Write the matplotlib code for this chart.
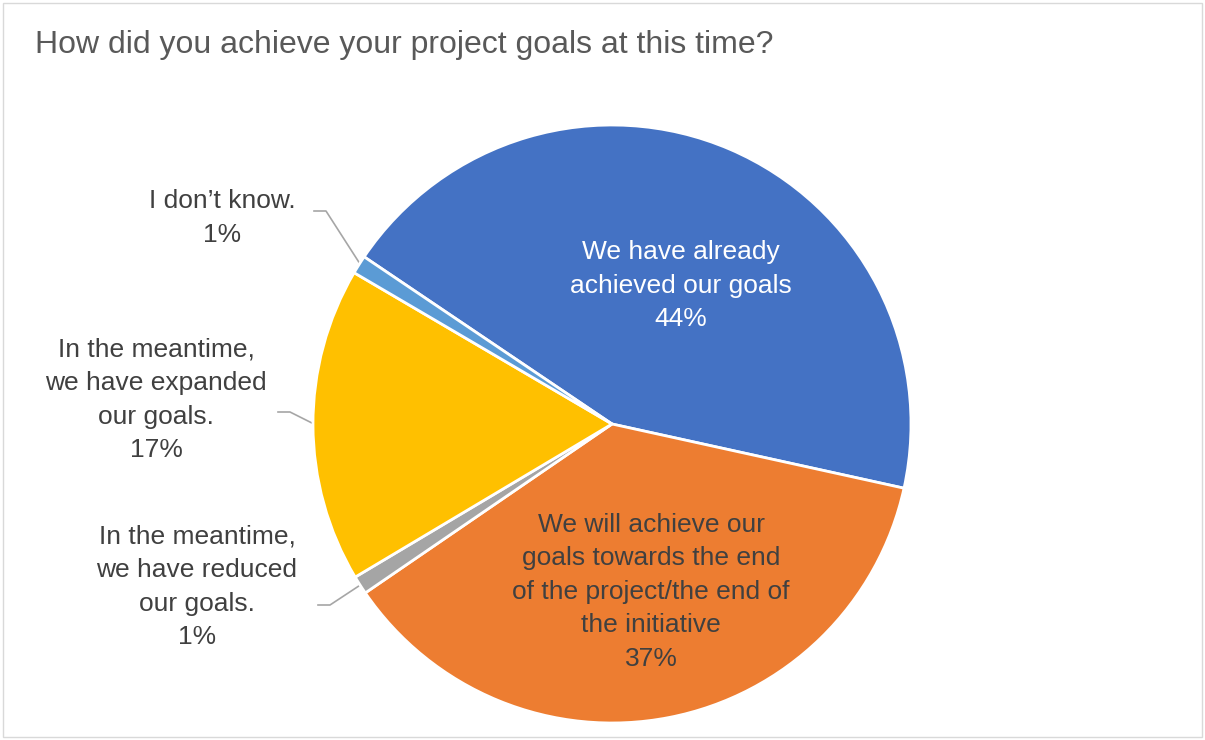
import numpy as np
import matplotlib
matplotlib.use("Agg")
import matplotlib.pyplot as plt
from matplotlib.patches import Rectangle

plt.rcParams['font.family'] = ['Liberation Sans', 'DejaVu Sans']

# data
title = "How did you achieve your project goals at this time?"
categories = [
    "We have already\nachieved our goals",
    "We will achieve our\ngoals towards the end\nof the project/the end of\nthe initiative",
    "In the meantime,\nwe have reduced\nour goals.",
    "In the meantime,\nwe have expanded\nour goals.",
    "I don\u2019t know.",
]
shares = [44, 37, 1, 17, 1]
colors = ["#4472C4", "#ED7D31", "#A5A5A5", "#FFC000", "#5B9BD5"]

W, H = 1205, 740
fig = plt.figure(figsize=(W / 100, H / 100), dpi=100)

# pie centre and radius in pixels
cx, cy, r = 612, 424, 299
ax = fig.add_axes([(cx - r) / W, (H - cy - r) / H, 2 * r / W, 2 * r / H])

wedges, _ = ax.pie(shares, colors=colors, startangle=146, counterclock=False,
                   radius=1, wedgeprops=dict(edgecolor="white", linewidth=2))
ax.set_xlim(-1, 1)
ax.set_ylim(-1, 1)
ax.set_aspect("equal")
ax.axis("off")


def px(x, y):
    # pixel position -> pie data coordinates
    return (x - cx) / r, (cy - y) / r


txt = "#404040"
fs = 19
ls = 1.5
lbls = [f"{c}\n{v}%" for c, v in zip(categories, shares)]

# inside labels
ax.text(*px(681, 286), lbls[0], color="white", fontsize=fs, ha="center", va="center", linespacing=ls)
ax.text(*px(651, 592), lbls[1], color=txt, fontsize=fs, ha="center", va="center", linespacing=ls)

# outside labels with leader lines
outside = [(2, (197, 587), (318, 605), (330, 605)),
           (3, (156, 400), (278, 412), (290, 412)),
           (4, (222, 218), (314, 211), (326, 211))]
for i, pos, p0, p1 in outside:
    ax.text(*px(*pos), lbls[i], color=txt, fontsize=fs, ha="center", va="center", linespacing=ls)
    w = wedges[i]
    mid = np.deg2rad((w.theta1 + w.theta2) / 2)
    end = (np.cos(mid) * 0.99, np.sin(mid) * 0.99)
    a, b = px(*p0), px(*p1)
    ax.plot([a[0], b[0], end[0]], [a[1], b[1], end[1]], color="#A6A6A6", lw=1.2,
            clip_on=False, zorder=0)

fig.text(35 / W, 1 - 45 / H, title, color="#595959", fontsize=23, ha="left", va="center")

fig.patches.append(Rectangle((3 / W, 3 / H), 1 - 6 / W, 1 - 6 / H, transform=fig.transFigure,
                             fill=False, edgecolor="#D9D9D9", lw=1))

fig.savefig("out.png", dpi=100)
